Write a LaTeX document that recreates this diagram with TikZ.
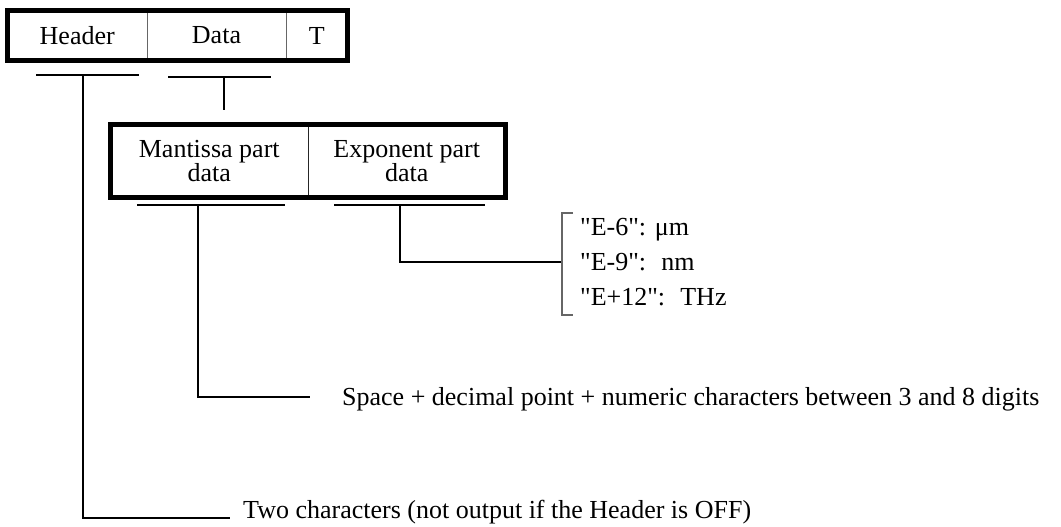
\documentclass[tikz,border=0pt]{standalone}
\usepackage{fontspec}
\setmainfont{Liberation Serif}[Ligatures=TeXOff]
\begin{document}
\begin{tikzpicture}[x=1pt,y=-1pt,
  txt/.style={font=\fontsize{26}{21}\selectfont, inner sep=0pt},
  cell/.style={txt, align=center, anchor=center},
  frame/.style={line width=4.5pt},
  sep/.style={line width=1pt, draw=black!60},
  wire/.style={line width=1.5pt},
  brk/.style={line width=1.2pt, draw=black!60}]
\useasboundingbox (0,0) rectangle (1061,527);
% top record
\node[cell, minimum width=139.5pt, minimum height=50pt] (hdr) at (77.25,35.5) {Header};
\node[cell, minimum width=139pt, minimum height=50pt] (dat) at (216.5,35.5) {Data};
\node[cell, minimum width=61.5pt, minimum height=50pt] (tee) at (316.75,35.5) {T};
\draw[sep] (hdr.north east) -- (hdr.south east);
\draw[sep] (dat.north east) -- (dat.south east);
\draw[frame] (hdr.north west) rectangle (tee.south east);
% data record
\node[cell, minimum width=197.5pt, minimum height=73pt] (mant) at (209.25,161) {Mantissa part\\data};
\node[cell, minimum width=197.5pt, minimum height=73pt] (expo) at (406.75,161) {Exponent part\\data};
\draw[sep, draw=black!85] (mant.north east) -- (mant.south east);
\draw[frame] (mant.north west) rectangle (expo.south east);
% labels
\node[txt, anchor=base west] (lmu) at (580,235) {"E-6": μm};
\node[txt, anchor=base west] (lnm) at (580,270) {"E-9":~ nm};
\node[txt, anchor=base west] (lthz) at (580,305) {"E+12":~ THz};
\node[txt, anchor=base west] (lsp) at (342,405) {Space + decimal point + numeric characters between 3 and 8 digits};
\node[txt, anchor=base west] (ltwo) at (243,518) {Two characters (not output if the Header is OFF)};
% coordinates
\coordinate (hu1) at (36,75);  \coordinate (hu2) at (139,75);
\coordinate (hv) at (83,75);   \coordinate (hend) at (230,518);
\coordinate (du1) at (168,77); \coordinate (du2) at (271,77);
\coordinate (dv) at (224,77);  \coordinate (dvend) at (224,110);
\coordinate (mu1) at (137,205); \coordinate (mu2) at (285,205);
\coordinate (mv) at (198,205);  \coordinate (mend) at (310,397);
\coordinate (eu1) at (334,205); \coordinate (eu2) at (485,205);
\coordinate (ev) at (400,205);  \coordinate (eend) at (562,262);
\coordinate (bt) at (573,213);  \coordinate (bb) at (573,315);
% connectors
\draw[wire] (hu1) -- (hu2);
\draw[wire] (hv) |- (hend);
\draw[wire] (du1) -- (du2);
\draw[wire] (dv) -- (dvend);
\draw[wire] (mu1) -- (mu2);
\draw[wire] (mv) |- (mend);
\draw[wire] (eu1) -- (eu2);
\draw[wire] (ev) |- (eend);
\draw[brk] (bt) -- ++(-11,0) |- (bb);
\end{tikzpicture}
\end{document}
